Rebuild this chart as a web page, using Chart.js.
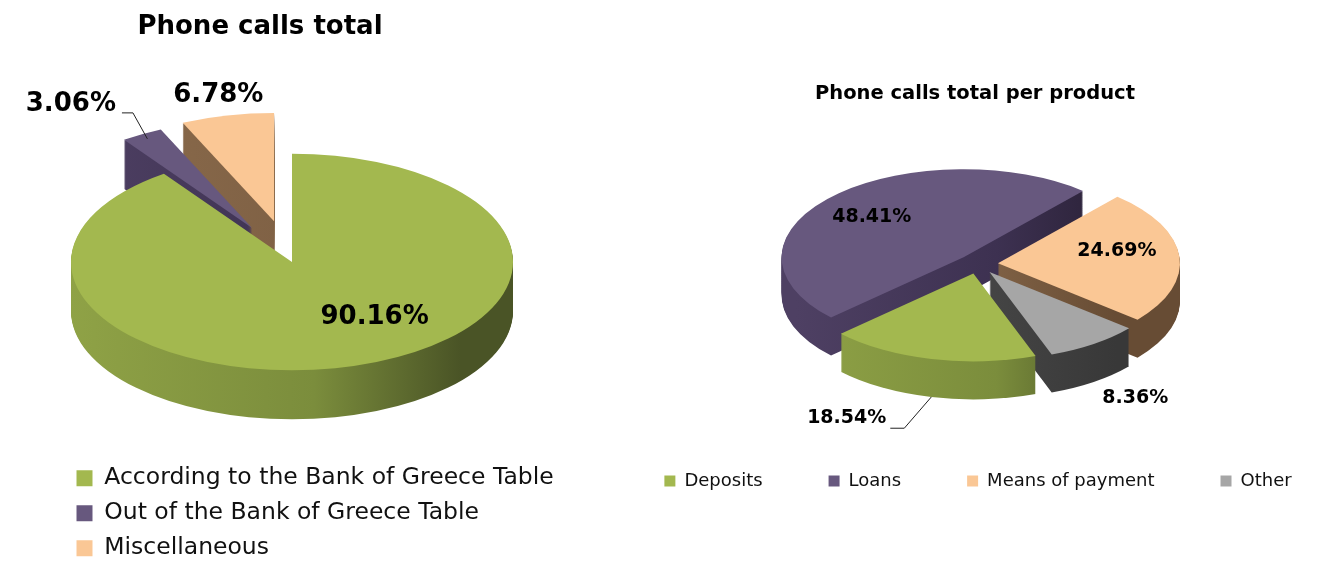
<!DOCTYPE html>
<html>
<head>
<meta charset="utf-8">
<title>Phone calls</title>
<script src="https://cdn.jsdelivr.net/npm/chart.js@4.4.1/dist/chart.umd.min.js"></script>
<style>
  html, body { margin: 0; padding: 0; background: #fff; width: 1331px; height: 562px; overflow: hidden; }
  .panel { position: absolute; top: 0; }
  #leftPanel { left: 0; }
  #rightPanel { left: 560px; }
</style>
</head>
<body>
<div class="panel" id="leftPanel"><canvas id="callsTotal" width="640" height="570"></canvas></div>
<div class="panel" id="rightPanel"><canvas id="callsProduct" width="840" height="562"></canvas></div>

<script>
const totalLabels = ['According to the Bank of Greece Table', 'Out of the Bank of Greece Table', 'Miscellaneous']
const totalShares = [90.16, 3.06, 6.78]

const productLabels = ['Deposits', 'Loans', 'Means of payment', 'Other']
const productShares = [18.54, 48.41, 24.69, 8.36]

const GREEN = '#A3B84F'
const PURPLE = '#67587E'
const PEACH = '#FAC795'
const GRAY = '#A6A6A6'

// wall shades (left, middle, right) for each top colour
const WALLS = {
  [GREEN]: ['#8FA246', '#7B8D3C', '#4A5426'],
  [PURPLE]: ['#4E4063', '#3D3151', '#2A2137'],
  [PEACH]: ['#8C6C4C', '#7E6044', '#674C34'],
  [GRAY]: ['#4C4C4C', '#444444', '#383838']
}

Chart.defaults.font.family = '"DejaVu Sans", Verdana, sans-serif'
Chart.defaults.color = '#111'

function sector(ctx, p, dy) {
  ctx.beginPath()
  ctx.moveTo(p.x, p.y + dy)
  ctx.arc(p.x, p.y + dy, p.r, p.start, p.end)
  ctx.closePath()
}

// Draws the pie as a tilted disc with a wall, then the percentage labels
const pie3d = {
  id: 'pie3d',
  afterLayout(chart, args, opts) {
    // long legend entries may run past the plot width
    if (opts.legendRight && chart.legend) chart.legend.right = opts.legendRight
  },
  beforeDatasetsDraw(chart, args, opts) {
    const { ctx } = chart
    const arcs = chart.getDatasetMeta(0).data
    const values = chart.data.datasets[0].data
    const k = opts.tilt
    const depth = opts.depth
    const cx = arcs[0].x
    const cy = arcs[0].y

    const parts = arcs.map((arc, i) => {
      const { startAngle, endAngle, outerRadius } = arc.getProps(['startAngle', 'endAngle', 'outerRadius'], true)
      const mid = (startAngle + endAngle) / 2
      const off = arc.options.offset || 0
      return {
        i, start: startAngle, end: endAngle, mid, r: outerRadius,
        x: cx + Math.cos(mid) * off,
        y: cy + Math.sin(mid) * off,
        color: arc.options.backgroundColor
      }
    })
    const toScreen = (x, y) => ({ x, y: cy + (y - cy) * k })

    ctx.save()
    ctx.translate(0, cy)
    ctx.scale(1, k)
    ctx.translate(0, -cy)

    // walls: back slices first so the front ones cover them
    const order = [...parts].sort((a, b) => Math.sin(a.mid) - Math.sin(b.mid))
    order.forEach(p => {
      const shades = WALLS[p.color]
      const g = ctx.createLinearGradient(cx - p.r, 0, cx + p.r, 0)
      g.addColorStop(0, shades[0])
      g.addColorStop(0.55, shades[1])
      g.addColorStop(0.88, shades[2])
      g.addColorStop(1, shades[2])
      ctx.fillStyle = g
      for (let d = depth; d > 0; d--) {
        sector(ctx, p, d / k)
        ctx.fill()
      }
    })

    // tops
    parts.forEach(p => {
      ctx.fillStyle = p.color
      sector(ctx, p, 0)
      ctx.fill()
    })
    ctx.restore()

    // percentage labels
    ctx.save()
    ctx.fillStyle = '#000'
    ctx.strokeStyle = '#222'
    ctx.lineWidth = 1
    ctx.textAlign = 'center'
    ctx.textBaseline = 'middle'
    opts.labels.forEach((lab, i) => {
      const p = parts[i]
      const pt = toScreen(p.x + Math.cos(p.mid) * p.r * lab.f, p.y + Math.sin(p.mid) * p.r * lab.f)
      const x = pt.x + lab.dx
      const y = pt.y + lab.dy
      const text = values[i].toFixed(2) + '%'
      ctx.font = lab.font
      ctx.fillText(text, x, y)
      if (lab.leader) {
        const L = lab.leader
        const w = ctx.measureText(text).width
        const sx = x + w / 2 + L.gap
        const sy = y + L.drop
        const end = toScreen(p.x + Math.cos(p.mid) * p.r * L.f, p.y + Math.sin(p.mid) * p.r * L.f)
        ctx.beginPath()
        ctx.moveTo(sx, sy)
        ctx.lineTo(sx + L.hook, sy)
        ctx.lineTo(end.x, end.y + L.wall * depth)
        ctx.stroke()
      }
    })
    ctx.restore()
    return false
  },
  afterDraw(chart, args, opts) {
    const t = opts.title
    const { ctx } = chart
    ctx.save()
    ctx.font = t.font
    ctx.fillStyle = '#000'
    ctx.textAlign = 'center'
    ctx.textBaseline = 'middle'
    ctx.fillText(t.text, t.x, t.y)
    ctx.restore()
  }
}

new Chart(document.getElementById('callsTotal'), {
  type: 'pie',
  data: {
    labels: totalLabels,
    datasets: [{
      data: totalShares,
      backgroundColor: [GREEN, PURPLE, PEACH],
      borderWidth: 0,
      offset: [0, 80, 85]
    }]
  },
  options: {
    responsive: false,
    animation: false,
    events: [],
    radius: 221,
    layout: { padding: { top: 69, left: 65, right: 121, bottom: 0 } },
    plugins: {
      tooltip: { enabled: false },
      legend: {
        position: 'bottom',
        align: 'start',
        labels: { boxWidth: 16, boxHeight: 16, padding: 11.5, color: '#111', font: { size: 23.5 } }
      },
      pie3d: {
        tilt: 0.49,
        depth: 49,
        legendRight: 640,
        title: { text: 'Phone calls total', x: 260, y: 27, font: 'bold 26px "DejaVu Sans"' },
        labels: [
          { f: 0.5, dx: 49, dy: 4, font: 'bold 26px "DejaVu Sans"' },
          { f: 1.2, dx: -49, dy: -11.5, font: 'bold 26px "DejaVu Sans"',
            leader: { gap: 6, drop: 9, hook: 11, f: 0.95, wall: 0 } },
          { f: 1.15, dx: -2, dy: -4, font: 'bold 26px "DejaVu Sans"' }
        ]
      }
    }
  },
  plugins: [pie3d]
})

new Chart(document.getElementById('callsProduct'), {
  type: 'pie',
  data: {
    labels: productLabels,
    datasets: [{
      data: productShares,
      backgroundColor: [GREEN, PURPLE, PEACH, GRAY],
      borderWidth: 0,
      offset: 20
    }]
  },
  options: {
    responsive: false,
    animation: false,
    events: [],
    radius: 182,
    rotation: 160,
    layout: { padding: { top: 122, left: 0, right: 4, bottom: 62 } },
    plugins: {
      tooltip: { enabled: false },
      legend: {
        position: 'bottom',
        align: 'center',
        labels: { boxWidth: 11, boxHeight: 11, padding: 66, color: '#111', font: { size: 18 } }
      },
      pie3d: {
        tilt: 0.4835,
        depth: 38,
        title: { text: 'Phone calls total per product', x: 415, y: 94, font: 'bold 19.5px "DejaVu Sans"' },
        labels: [
          { f: 1.75, dx: -53, dy: -5, font: 'bold 19px "DejaVu Sans"',
            leader: { gap: 4, drop: 10, hook: 14, f: 1, wall: 1 } },
          { f: 0.7, dx: 0, dy: 2, font: 'bold 19px "DejaVu Sans"' },
          { f: 0.65, dx: 1, dy: -8, font: 'bold 19px "DejaVu Sans"' },
          { f: 1.5, dx: -11, dy: 18, font: 'bold 19px "DejaVu Sans"' }
        ]
      }
    }
  },
  plugins: [pie3d]
})
</script>
</body>
</html>
